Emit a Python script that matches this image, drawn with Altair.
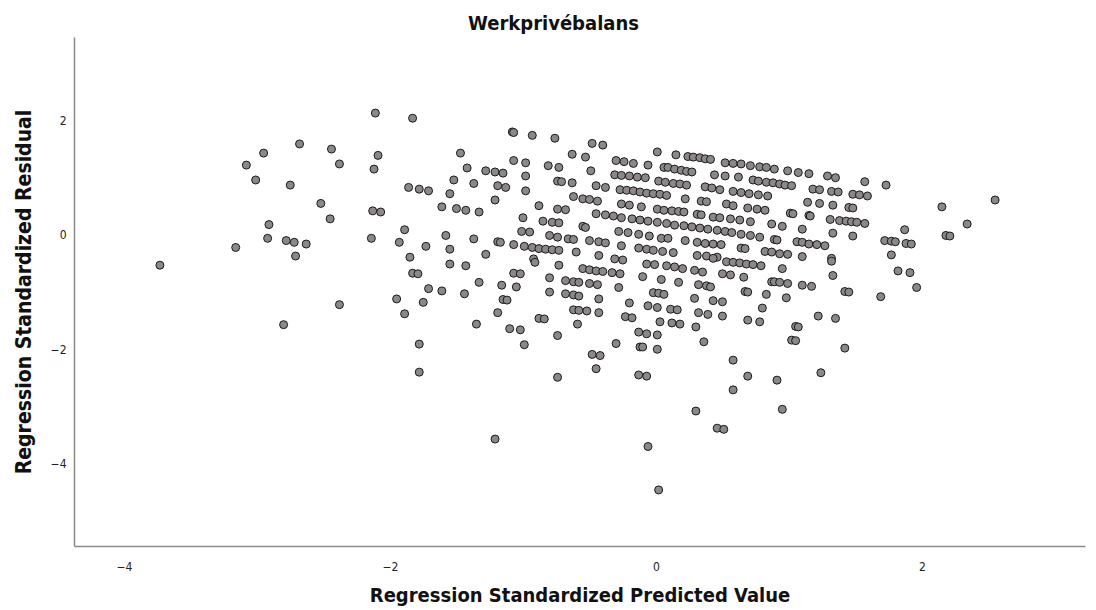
import altair as alt
import pandas as pd

# Standardized predicted value (x) and standardized residual (y)
left_points = [
    (-2.11, 2.13), (-2.68, 1.59), (-2.44, 1.50), (-2.95, 1.43), (-2.09, 1.39), (-3.08, 1.22),
    (-2.38, 1.24), (-2.12, 1.15), (-3.01, 0.96), (-2.75, 0.87), (-2.52, 0.55), (-2.45, 0.28),
    (-2.13, 0.42), (-2.07, 0.40), (-2.91, 0.18), (-2.92, -0.06), (-2.78, -0.10), (-2.72, -0.13),
    (-2.63, -0.16), (-2.71, -0.37), (-2.14, -0.06), (-3.16, -0.22), (-3.73, -0.53), (-2.38, -1.22),
    (-2.80, -1.57),
]

mid_left_upper = [
    (-1.83, 2.04), (-1.08, 1.80), (-1.07, 1.79), (-0.93, 1.74), (-0.76, 1.69), (-1.47, 1.43),
    (-1.07, 1.30), (-0.98, 1.26), (-0.81, 1.21), (-0.73, 1.18), (-1.42, 1.17), (-1.28, 1.12),
    (-1.21, 1.10), (-1.15, 1.08), (-1.52, 0.96), (-1.37, 0.90), (-0.98, 1.03), (-0.74, 0.94),
    (-1.86, 0.83), (-1.78, 0.80), (-1.71, 0.77), (-1.19, 0.86), (-1.13, 0.83), (-0.98, 0.77),
    (-1.55, 0.72), (-1.21, 0.61), (-1.61, 0.49), (-1.50, 0.46), (-1.43, 0.43), (-1.33, 0.40),
    (-0.88, 0.51), (-0.74, 0.45), (-1.00, 0.30), (-0.85, 0.24), (-0.78, 0.22), (-0.73, 0.21),
    (-1.89, 0.09), (-1.01, 0.06), (-0.95, 0.05), (-0.80, -0.01), (-0.74, -0.04), (-1.93, -0.13),
    (-1.73, -0.20), (-1.58, -0.01), (-1.37, -0.07), (-1.19, -0.12), (-1.17, -0.13), (-1.55, -0.25),
    (-1.28, -0.34), (-1.07, -0.17), (-0.99, -0.20), (-0.93, -0.22), (-0.88, -0.24), (-0.83, -0.25),
    (-0.78, -0.26), (-0.73, -0.27), (-1.85, -0.39), (-0.92, -0.42),
]

mid_left_lower = [
    (-1.55, -0.51), (-1.43, -0.54), (-1.83, -0.67), (-1.79, -0.68), (-0.91, -0.48), (-0.73, -0.53),
    (-1.07, -0.67), (-1.02, -0.68), (-1.33, -0.83), (-0.80, -0.75), (-1.71, -0.94), (-1.61, -0.98),
    (-1.16, -0.88), (-1.05, -0.91), (-1.44, -1.03), (-1.95, -1.12), (-1.75, -1.18), (-1.15, -1.13),
    (-1.12, -1.14), (-0.80, -1.00), (-1.89, -1.38), (-1.19, -1.36), (-0.88, -1.46), (-0.84, -1.47),
    (-1.35, -1.56), (-1.10, -1.64), (-1.02, -1.66), (-0.99, -1.92), (-0.74, -1.76), (-1.78, -1.91),
    (-1.78, -2.40), (-0.74, -2.49),
]

bottom_outliers = [
    (-1.21, -3.57), (0.58, -2.71), (0.30, -3.08), (0.95, -3.05), (0.46, -3.38), (0.51, -3.40),
    (-0.06, -3.70), (0.02, -4.46),
]

center_upper = [
    (-0.48, 1.60), (-0.40, 1.57), (0.01, 1.45), (0.15, 1.40), (0.24, 1.37), (0.28, 1.36),
    (0.33, 1.35), (0.37, 1.33), (0.41, 1.32), (0.52, 1.26), (-0.63, 1.41), (-0.53, 1.36),
    (-0.30, 1.30), (-0.24, 1.28), (-0.17, 1.25), (-0.06, 1.22), (0.06, 1.18), (0.09, 1.18),
    (0.14, 1.15), (0.19, 1.13), (0.23, 1.11), (0.27, 1.10), (0.44, 1.05), (0.52, 1.03),
    (-0.49, 1.12), (-0.31, 1.05), (-0.26, 1.04), (-0.20, 1.03), (-0.14, 1.01), (-0.08, 1.00),
    (0.02, 0.94), (0.07, 0.92), (0.13, 0.90), (0.18, 0.89), (0.23, 0.87), (-0.71, 0.93),
    (-0.63, 0.91), (-0.45, 0.86), (-0.38, 0.83), (-0.27, 0.79), (-0.22, 0.78), (-0.17, 0.77),
    (-0.12, 0.75), (-0.07, 0.73), (-0.02, 0.72), (0.03, 0.71), (0.08, 0.69), (0.37, 0.84),
    (0.42, 0.82), (0.48, 0.79), (-0.62, 0.67), (-0.55, 0.63), (-0.50, 0.62), (-0.44, 0.59),
    (0.22, 0.63), (0.34, 0.59), (0.38, 0.58), (0.53, 0.54), (-0.26, 0.54), (-0.20, 0.52),
    (-0.11, 0.49), (0.01, 0.45), (0.06, 0.43), (0.12, 0.42), (0.17, 0.41), (0.21, 0.40),
    (0.31, 0.36), (0.34, 0.35), (-0.68, 0.44), (0.43, 0.31), (0.48, 0.30), (-0.45, 0.37),
    (-0.38, 0.35), (-0.32, 0.33), (-0.26, 0.30), (-0.18, 0.28), (-0.12, 0.26), (-0.06, 0.24),
    (0.01, 0.22), (0.08, 0.20), (0.14, 0.17), (0.21, 0.16), (0.27, 0.14), (0.33, 0.12),
    (0.39, 0.10), (0.46, 0.08), (0.52, 0.06), (-0.55, 0.15), (-0.53, 0.13), (-0.28, 0.06),
    (-0.21, 0.04), (-0.13, 0.01), (-0.05, -0.02), (0.04, -0.06), (0.09, -0.06), (0.22, -0.10),
    (0.31, -0.13), (0.37, -0.15), (0.43, -0.16), (0.49, -0.17), (-0.66, -0.07), (-0.62, -0.08),
    (-0.50, -0.10), (-0.43, -0.12), (-0.38, -0.14), (-0.26, -0.19), (-0.13, -0.23), (-0.07, -0.25),
    (-0.02, -0.27), (0.05, -0.29), (0.13, -0.31), (0.31, -0.36), (0.38, -0.37), (0.46, -0.39),
    (-0.60, -0.30), (-0.43, -0.36),
]

right_upper = [
    (0.58, 1.25), (0.64, 1.24), (0.71, 1.21), (0.78, 1.19), (0.83, 1.18), (0.89, 1.15),
    (0.99, 1.12), (1.07, 1.09), (1.15, 1.07), (1.29, 1.03), (1.35, 1.00), (1.57, 0.93),
    (1.73, 0.87), (0.62, 1.01), (0.73, 0.96), (0.77, 0.94), (0.83, 0.92), (0.88, 0.91),
    (0.93, 0.89), (0.97, 0.87), (1.02, 0.86), (1.18, 0.80), (1.23, 0.79), (1.32, 0.76),
    (1.37, 0.75), (1.48, 0.71), (1.53, 0.70), (1.59, 0.68), (0.58, 0.76), (0.64, 0.74),
    (0.70, 0.72), (0.77, 0.70), (0.84, 0.68), (1.14, 0.57), (1.23, 0.55), (1.33, 0.52),
    (1.45, 0.48), (1.48, 0.47), (0.58, 0.51), (0.69, 0.47), (0.76, 0.45), (0.82, 0.43),
    (1.01, 0.38), (1.03, 0.37), (1.15, 0.34), (1.16, 0.33), (1.31, 0.27), (1.38, 0.25),
    (1.43, 0.24), (1.47, 0.23), (1.51, 0.22), (1.57, 0.20), (0.56, 0.28), (0.63, 0.26),
    (0.71, 0.23), (0.87, 0.19), (0.95, 0.15), (1.10, 0.10), (1.33, 0.03), (1.48, -0.02),
    (0.57, 0.04), (0.64, 0.01), (0.71, -0.01), (0.78, -0.04), (0.89, -0.08), (0.91, -0.09),
    (1.06, -0.12), (1.10, -0.13), (1.15, -0.16), (1.21, -0.17), (1.27, -0.19), (1.72, -0.10),
    (1.77, -0.11), (1.80, -0.12), (0.64, -0.23), (0.67, -0.24), (0.82, -0.29), (0.87, -0.30),
    (0.93, -0.33), (0.99, -0.34), (1.10, -0.38), (1.32, -0.41), (1.77, -0.35),
]

center_lower = [
    (-0.31, -0.42), (-0.25, -0.44), (0.43, -0.41), (0.53, -0.47), (-0.55, -0.59), (-0.50, -0.61),
    (-0.45, -0.63), (-0.40, -0.64), (-0.33, -0.66), (-0.27, -0.68), (-0.07, -0.51), (-0.01, -0.52),
    (0.08, -0.54), (0.14, -0.56), (0.20, -0.59), (0.29, -0.62), (0.35, -0.65), (0.50, -0.68),
    (-0.10, -0.73), (0.04, -0.78), (0.17, -0.83), (-0.68, -0.80), (-0.62, -0.82), (-0.58, -0.83),
    (-0.50, -0.85), (-0.44, -0.87), (-0.28, -0.92), (0.32, -0.87), (0.38, -0.89), (0.41, -0.91),
    (-0.68, -1.03), (-0.62, -1.05), (-0.58, -1.07), (-0.43, -1.12), (-0.20, -1.19), (-0.02, -1.01),
    (0.02, -1.02), (0.06, -1.04), (0.29, -1.11), (0.43, -1.15), (0.50, -1.17), (-0.62, -1.31),
    (-0.58, -1.32), (-0.52, -1.33), (-0.43, -1.36), (-0.06, -1.24), (0.01, -1.27), (0.11, -1.30),
    (0.16, -1.31), (0.32, -1.36), (0.39, -1.39), (0.50, -1.42), (-0.23, -1.43), (-0.18, -1.45),
    (0.03, -1.52), (0.12, -1.54), (0.18, -1.56), (0.30, -1.61), (-0.59, -1.56), (-0.13, -1.70),
    (-0.07, -1.73), (0.01, -1.75), (-0.30, -1.90), (-0.12, -1.96), (-0.10, -1.96), (0.01, -2.00),
    (0.36, -1.87), (-0.48, -2.09), (-0.42, -2.11), (-0.45, -2.34), (-0.13, -2.45), (-0.07, -2.47),
]

right_lower = [
    (1.32, -0.46), (1.82, -0.63), (0.58, -0.48), (0.63, -0.49), (0.68, -0.51), (0.73, -0.52),
    (0.79, -0.54), (0.95, -0.59), (0.56, -0.70), (0.66, -0.74), (0.87, -0.82), (0.89, -0.82),
    (0.93, -0.83), (0.99, -0.85), (1.10, -0.88), (1.17, -0.90), (1.33, -0.71), (1.42, -0.99),
    (1.45, -1.00), (1.69, -1.08), (0.67, -0.99), (0.69, -1.00), (0.83, -1.04), (0.98, -1.10),
    (0.80, -1.28), (1.22, -1.42), (1.35, -1.46), (0.69, -1.49), (0.78, -1.52), (1.05, -1.60),
    (1.07, -1.61), (1.02, -1.84), (1.05, -1.85), (1.42, -1.98), (0.58, -2.19), (0.69, -2.47),
    (0.91, -2.54), (1.24, -2.41),
]

far_right = [
    (2.15, 0.49), (2.55, 0.61), (2.34, 0.19), (2.18, -0.01), (2.21, -0.02), (1.87, 0.09),
    (1.88, -0.15), (1.92, -0.16), (1.91, -0.66), (1.96, -0.92),
]

all_points = (left_points + mid_left_upper + mid_left_lower + bottom_outliers +
              center_upper + right_upper + center_lower + right_lower + far_right)
df = pd.DataFrame(all_points, columns=["pred", "resid"])

x_ticks = [-4, -2, 0, 2]
y_ticks = [-4, -2, 0, 2]

FONT = "DejaVu Sans Condensed"
MINUS_LABEL = "datum.value < 0 ? '\u2212' + abs(datum.value) : '' + datum.value"

chart = alt.Chart(df).mark_circle(
    size=64, fill="#8c8889", stroke="#1a1a1a", strokeWidth=1, opacity=1
).encode(
    x=alt.X("pred:Q",
            scale=alt.Scale(domain=[-4.376, 3.226], nice=False, zero=False),
            axis=alt.Axis(title="Regression Standardized Predicted Value", values=x_ticks,
                          labelExpr=MINUS_LABEL, ticks=False, grid=False,
                          labelPadding=15, titlePadding=13, titleFontSize=20)),
    y=alt.Y("resid:Q",
            scale=alt.Scale(domain=[-5.44, 3.46], nice=False, zero=False),
            axis=alt.Axis(title="Regression Standardized Residual", values=y_ticks,
                          labelExpr=MINUS_LABEL, ticks=False, grid=False,
                          labelPadding=8, titlePadding=16, titleFontSize=21)),
).properties(
    width=1011, height=509,
    title=alt.TitleParams("Werkprivébalans", font=FONT, fontSize=20, fontWeight="bold",
                          anchor="middle", offset=3, dx=-26, color="#111111"),
    autosize=alt.AutoSizeParams(type="none"),
    padding={"left": 74, "top": 37, "right": 11, "bottom": 64},
).configure_view(stroke=None).configure_axis(
    domainColor="#8a8a8a", domainWidth=1.5,
    labelFont=FONT, labelFontSize=12, labelColor="#222222",
    titleFont=FONT, titleFontWeight="bold", titleColor="#111111",
)

chart.save("out.html", embed_options={"renderer": "svg", "actions": False})
